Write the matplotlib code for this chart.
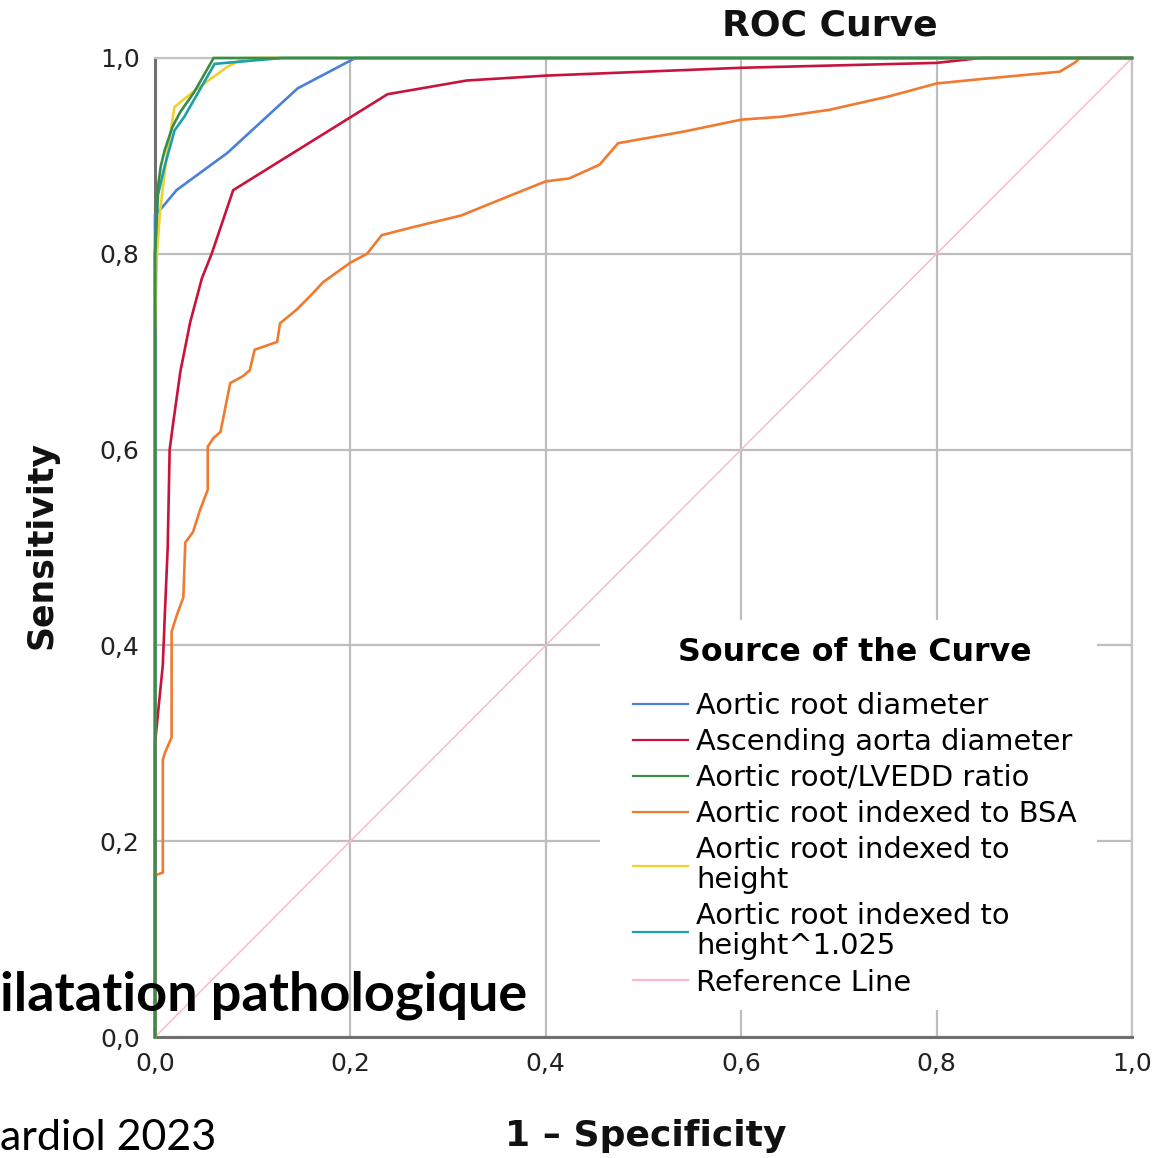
import matplotlib
matplotlib.use("Agg")
import matplotlib.pyplot as plt
from matplotlib.patches import Rectangle
from matplotlib.ticker import FixedLocator, FuncFormatter

# ROC curve data (1 - specificity, sensitivity) per predictor
root_fpr = [0.0, 0.0, 0.007, 0.022, 0.074, 0.146, 0.205, 1.0]
root_tpr = [0.0, 0.84, 0.847, 0.865, 0.903, 0.969, 1.0, 1.0]

asc_fpr = [0.0, 0.0, 0.003, 0.006, 0.008, 0.010, 0.013, 0.015, 0.019, 0.026,
           0.036, 0.048, 0.058, 0.080, 0.238, 0.319, 0.400, 0.600, 0.800, 0.845, 1.0]
asc_tpr = [0.0, 0.30, 0.33, 0.36, 0.38, 0.43, 0.50, 0.60, 0.63, 0.68,
           0.73, 0.775, 0.80, 0.865, 0.963, 0.977, 0.982, 0.990, 0.995, 1.0, 1.0]

ratio_fpr = [0.0, 0.0, 0.003, 0.006, 0.010, 0.018, 0.026, 0.040, 0.060, 1.0]
ratio_tpr = [0.0, 0.80, 0.868, 0.890, 0.906, 0.930, 0.945, 0.965, 1.0, 1.0]

bsa_fpr = [0.0, 0.0, 0.008, 0.008, 0.010, 0.017, 0.017, 0.022, 0.029, 0.031,
           0.039, 0.046, 0.054, 0.054, 0.060, 0.067, 0.077, 0.090, 0.097, 0.102,
           0.125, 0.128, 0.145, 0.160, 0.172, 0.200, 0.217, 0.232, 0.263, 0.313,
           0.360, 0.400, 0.424, 0.455, 0.474, 0.542, 0.600, 0.641, 0.690, 0.752,
           0.800, 0.851, 0.926, 0.941, 0.947, 1.0]
bsa_tpr = [0.0, 0.165, 0.168, 0.283, 0.290, 0.306, 0.414, 0.430, 0.449, 0.505,
           0.516, 0.538, 0.559, 0.603, 0.612, 0.618, 0.668, 0.675, 0.681, 0.702,
           0.710, 0.729, 0.743, 0.758, 0.771, 0.791, 0.800, 0.819, 0.827, 0.839,
           0.858, 0.874, 0.877, 0.891, 0.913, 0.925, 0.937, 0.940, 0.947, 0.961,
           0.974, 0.979, 0.986, 0.995, 1.0, 1.0]

height_fpr = [0.0, 0.0, 0.002, 0.005, 0.012, 0.020, 0.041, 0.074, 0.092, 1.0]
height_tpr = [0.0, 0.72, 0.80, 0.842, 0.90, 0.950, 0.967, 0.991, 1.0, 1.0]

hpow_fpr = [0.0, 0.0, 0.003, 0.010, 0.020, 0.030, 0.061, 0.130, 1.0]
hpow_tpr = [0.0, 0.80, 0.860, 0.890, 0.926, 0.940, 0.994, 1.0, 1.0]

ref_x = [0.0, 1.0]
ref_y = [0.0, 1.0]

labels = ["Aortic root diameter", "Ascending aorta diameter",
          "Aortic root/LVEDD ratio", "Aortic root indexed to BSA",
          "Aortic root indexed to\nheight", "Aortic root indexed to\nheight^1.025",
          "Reference Line"]
colors = ["#4b80d8", "#c8143c", "#3a8c46", "#f07a30", "#f2d030", "#1aa0a8", "#f6bccb"]

ticks = [0.0, 0.2, 0.4, 0.6, 0.8, 1.0]

W, H = 1158, 1158
fig = plt.figure(figsize=(W / 100, H / 100), dpi=100)
fig.patch.set_facecolor("white")
ax = fig.add_axes([155 / W, 1 - 1037 / H, 977 / W, 979 / H])

series = [(root_fpr, root_tpr), (asc_fpr, asc_tpr), (ratio_fpr, ratio_tpr),
          (bsa_fpr, bsa_tpr), (height_fpr, height_tpr), (hpow_fpr, hpow_tpr)]
zorders = [4, 4, 7, 3, 5, 6]
handles = [None] * 7
h_ref, = ax.plot(ref_x, ref_y, color=colors[6], lw=1.1, zorder=2)
handles[6] = h_ref
for i, (fx, ty) in enumerate(series):
    h, = ax.plot(fx, ty, color=colors[i], lw=1.9, zorder=zorders[i],
                 solid_joinstyle="miter", clip_on=False)
    handles[i] = h

ax.set_xlim(0, 1)
ax.set_ylim(0, 1)
ax.xaxis.set_major_locator(FixedLocator(ticks))
ax.yaxis.set_major_locator(FixedLocator(ticks))
fmt = FuncFormatter(lambda v, p: f"{v:.1f}".replace(".", ","))
ax.xaxis.set_major_formatter(fmt)
ax.yaxis.set_major_formatter(fmt)
ax.grid(True, color="#bdbdbd", lw=1.6, zorder=1)
ax.set_axisbelow(True)
ax.tick_params(length=0, labelsize=18, colors="#222222")
ax.tick_params(axis="y", pad=11)
ax.tick_params(axis="x", pad=11)
for side in ["top", "right"]:
    ax.spines[side].set_color("#c4c4c4")
    ax.spines[side].set_linewidth(1.6)
for side in ["left", "bottom"]:
    ax.spines[side].set_color("#707070")
    ax.spines[side].set_linewidth(2.2)

# white panel behind the legend, hiding the grid there
ax.add_patch(Rectangle(((600 - 155) / 977, (1037 - 1010) / 979),
                       (1097 - 600) / 977, (1010 - 620) / 979,
                       transform=ax.transAxes, facecolor="white",
                       edgecolor="none", zorder=1.5))

leg = ax.legend(handles, labels, loc="upper left",
                bbox_to_anchor=((633 - 155) / 977, (1037 - 637) / 979),
                fontsize=20.8, title="Source of the Curve",
                title_fontproperties={"weight": "bold", "size": 22.8},
                frameon=False, handlelength=55 / 29, handletextpad=0.3,
                labelspacing=0.28, borderpad=0.0, borderaxespad=0.0)
leg._legend_box.sep = 17
leg.set_zorder(10)
for t in leg.get_texts():
    t.set_linespacing(1.1)
for ln in leg.get_lines():
    ln.set_linewidth(1.6)

fig.text(830 / W, 1 - 25 / H, "ROC Curve", ha="center", va="center",
         fontsize=26, fontweight="bold", color="#111111")
fig.text(42 / W, 1 - 545 / H, "Sensitivity", ha="center", va="center",
         rotation=90, fontsize=25, fontweight="bold", color="#111111")
fig.text(646 / W, 1 - 1136 / H, "1 \u2013 Specificity", ha="center", va="center",
         fontsize=26, fontweight="bold", color="#111111")

fig.text(0, 1 - 1010 / H, "ilatation pathologique", ha="left", va="baseline",
         fontsize=39, fontweight="bold", family="Lato", color="black", zorder=20)
fig.text(0, 1 - 1150 / H, "ardiol 2023", ha="left", va="baseline",
         fontsize=31, family="Lato", color="black")

fig.savefig("out.png", dpi=100, facecolor="white")
